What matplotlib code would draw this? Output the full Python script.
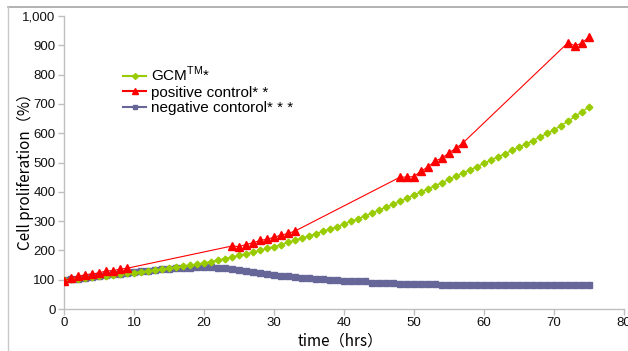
import matplotlib
matplotlib.use("Agg")
import matplotlib.pyplot as plt
from matplotlib.lines import Line2D

plt.rcParams['font.family'] = ['Liberation Sans', 'Noto Sans CJK JP', 'DejaVu Sans']
plt.rcParams['mathtext.fontset'] = 'custom'
plt.rcParams['mathtext.rm'] = 'Liberation Sans'

# Hours of sampling
hours = list(range(0, 76))

# GCM group, measured every hour
gcm = [100, 102, 104, 107, 109, 112, 114, 117, 119, 122,
       124, 127, 130, 133, 136, 139, 142, 146, 149, 153,
       157, 162, 167, 172, 177, 183, 188, 194, 200, 207,
       213, 220, 227, 235, 242, 250, 257, 265, 273, 281,
       290, 299, 308, 318, 327, 337, 347, 357, 367, 378,
       389, 399, 410, 421, 431, 442, 453, 464, 475, 486,
       497, 508, 519, 530, 541, 552, 563, 575, 587, 599,
       611, 626, 641, 657, 673, 690]

# Positive control, measured in four blocks
pos_hours = [0, 1, 2, 3, 4, 5, 6, 7, 8, 9,
             24, 25, 26, 27, 28, 29, 30, 31, 32, 33,
             48, 49, 50, 51, 52, 53, 54, 55, 56, 57,
             72, 73, 74, 75]
pos = [95, 107, 111, 117, 120, 123, 130, 131, 136, 139,
       215, 213, 220, 226, 234, 238, 245, 252, 258, 266,
       450, 450, 452, 471, 485, 505, 515, 533, 549, 567,
       909, 898, 908, 929]

# Negative control, measured every hour
neg = [99, 101, 104, 106, 109, 112, 115, 118, 121, 124,
       127, 129, 131, 133, 135, 137, 139, 140, 141, 142,
       143, 142, 141, 139, 137, 133, 130, 127, 124, 120,
       116, 113, 111, 109, 107, 105, 103, 102, 100, 98,
       97, 96, 96, 95, 90, 89, 89, 88, 86, 86,
       86, 86, 86, 85, 83, 83, 83, 83, 83, 83,
       83, 83, 83, 83, 83, 83, 83, 83, 83, 83,
       83, 83, 83, 83, 83, 83]

series_labels = ["GCM$^{\\mathrm{TM}}$* ", "positive control* *", "negative contorol* * *"]
x_ticks = [0, 10, 20, 30, 40, 50, 60, 70, 80]
y_ticks = [0, 100, 200, 300, 400, 500, 600, 700, 800, 900, 1000]
y_ticklabels = ["0", "100", "200", "300", "400", "500", "600", "700", "800", "900", "1,000"]

W, H = 628, 351
fig = plt.figure(figsize=(W / 100, H / 100), dpi=100)
ax = fig.add_axes([64 / W, 1 - 309 / H, (624 - 64) / W, (309 - 16) / H])

green = "#99CC00"
red = "#FF0000"
slate = "#666699"

ax.plot(hours, gcm, color=green, lw=1.0, marker="D", ms=3.4, mec=green, mfc=green, zorder=3)
ax.plot(pos_hours, pos, color=red, lw=0.8, marker="^", ms=5.5, mec=red, mfc=red, zorder=4)
ax.plot(hours, neg, color=slate, lw=1.0, marker="s", ms=4.2, mec=slate, mfc=slate, zorder=2)

ax.set_xlim(0, 80)
ax.set_ylim(0, 1000)
ax.set_xticks(x_ticks)
ax.set_yticks(y_ticks)
ax.set_yticklabels(y_ticklabels)

for side in ("top", "right"):
    ax.spines[side].set_visible(False)
for side in ("left", "bottom"):
    ax.spines[side].set_color("#BFBFBF")
    ax.spines[side].set_linewidth(1.0)
ax.tick_params(axis="both", direction="out", length=4, width=1.0, color="#BFBFBF",
               labelsize=9.5, labelcolor="#111111", pad=2)

# Axis titles
fig.text(340 / W, 1 - 341 / H, "time（hrs）", ha="center", va="center", fontsize=11,
         family=['Noto Sans CJK JP', 'DejaVu Sans'])
fig.text(25 / W, 1 - 168 / H, "Cell proliferation（%）", ha="center", va="center", fontsize=11,
         rotation=90, family=['Noto Sans CJK JP', 'DejaVu Sans'])

handles = [
    Line2D([], [], color=green, lw=1.5, marker="D", ms=3, mec=green, mfc=green),
    Line2D([], [], color=red, lw=1.5, marker="^", ms=4, mec=red, mfc=red),
    Line2D([], [], color=slate, lw=1.5, marker="s", ms=3, mec=slate, mfc=slate),
]
ax.legend(handles, series_labels, loc="upper left",
          bbox_to_anchor=((117 - 64) / (624 - 64), (309 - 59) / (309 - 16)),
          frameon=False, fontsize=11, handlelength=1.5, handletextpad=0.3,
          labelspacing=0.08, borderaxespad=0)

# Outer frame lines along the top and left of the figure
fig.add_artist(Line2D([8 / W, 1], [1 - 7 / H, 1 - 7 / H], color="#A6A6A6", lw=1.2, transform=fig.transFigure))
fig.add_artist(Line2D([8 / W, 8 / W], [0, 1 - 7 / H], color="#C8C8C8", lw=1.0, transform=fig.transFigure))

fig.savefig("out.png", dpi=100, facecolor="white")
